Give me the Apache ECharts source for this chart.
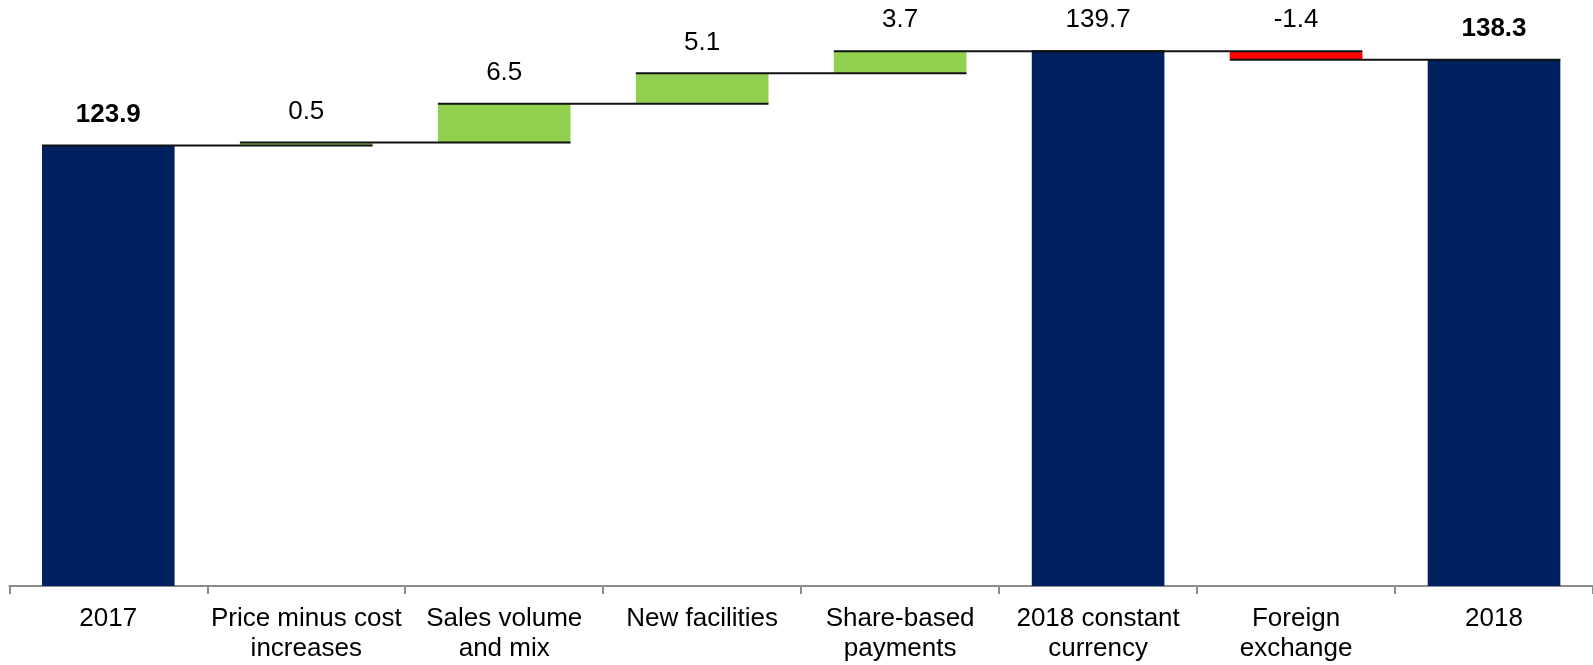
<!DOCTYPE html>
<html>
<head>
<meta charset="utf-8">
<title>Waterfall 2017 to 2018</title>
<script src="https://cdn.jsdelivr.net/npm/echarts@6/dist/echarts.min.js"></script>
<style>
  html, body { margin: 0; padding: 0; background: #ffffff; }
  #chart { width: 1593px; height: 665px; }
</style>
</head>
<body>
<div id="chart"></div>
<script>
// Bridge categories, step values and step kinds
const categories = [
  '2017',
  'Price minus cost\nincreases',
  'Sales volume\nand mix',
  'New facilities',
  'Share-based\npayments',
  '2018 constant\ncurrency',
  'Foreign\nexchange',
  '2018'
];
const values = [123.9, 0.5, 6.5, 5.1, 3.7, 139.7, -1.4, 138.3];
const kinds = ['total', 'delta', 'delta', 'delta', 'delta', 'subtotal', 'delta', 'total'];

const NAVY = '#002060';
const GREEN = '#92D050';
const RED = '#FF0000';
const FONT = '"Liberation Sans", Arial, sans-serif';

// Work out the floating segment of each bar and the running level after it
const baseData = [];
const barData = [];
const levels = [];
let running = 0;
values.forEach(function (v, i) {
  let lo, hi, color;
  if (kinds[i] === 'delta') {
    const next = running + v;
    lo = Math.min(running, next);
    hi = Math.max(running, next);
    running = next;
    color = v >= 0 ? GREEN : RED;
  } else {
    lo = 0;
    hi = v;
    running = v;
    color = NAVY;
  }
  levels.push(running);
  baseData.push(lo);
  barData.push({
    value: hi - lo,
    itemStyle: { color: color },
    label: { fontWeight: kinds[i] === 'total' ? 'bold' : 'normal' }
  });
});

// Connector from the left edge of bar i to the right edge of bar i + 1
const connectorData = [];
for (let i = 0; i < levels.length - 1; i++) {
  connectorData.push([i, levels[i]]);
}

const BAR_SHARE = 0.67;

const chart = echarts.init(document.getElementById('chart'), null, { renderer: 'canvas' });
chart.setOption({
  animation: false,
  backgroundColor: '#ffffff',
  grid: { left: 9.3, width: 1591.2, top: 49.5, bottom: 79, containLabel: false },
  xAxis: {
    type: 'category',
    data: categories,
    boundaryGap: true,
    axisLine: { show: true, lineStyle: { color: '#8c8c8c', width: 2 } },
    axisTick: { show: true, length: 8, lineStyle: { color: '#8c8c8c', width: 2 } },
    axisLabel: {
      color: '#000000',
      fontFamily: FONT,
      fontSize: 26,
      lineHeight: 30,
      margin: 18,
      interval: 0
    }
  },
  yAxis: {
    type: 'value',
    min: 50,
    max: 140,
    show: false,
    splitLine: { show: false }
  },
  series: [
    {
      type: 'bar',
      stack: 'bridge',
      data: baseData,
      itemStyle: { color: 'rgba(0,0,0,0)' },
      barCategoryGap: '33%',
      clip: true,
      silent: true
    },
    {
      type: 'bar',
      stack: 'bridge',
      data: barData,
      barCategoryGap: '33%',
      clip: true,
      label: {
        show: true,
        position: 'top',
        distance: 18,
        color: '#000000',
        fontFamily: FONT,
        fontSize: 26,
        formatter: function (p) {
          return values[p.dataIndex].toFixed(1);
        }
      }
    },
    {
      type: 'custom',
      z: 10,
      clip: false,
      data: connectorData,
      renderItem: function (params, api) {
        const i = api.value(0);
        const lv = api.value(1);
        const band = api.size([1, 0])[0];
        const half = band * BAR_SHARE / 2;
        const p0 = api.coord([i, lv]);
        const p1 = api.coord([i + 1, lv]);
        return {
          type: 'line',
          shape: { x1: p0[0] - half, y1: p0[1], x2: p1[0] + half, y2: p1[1] },
          style: { stroke: '#111111', lineWidth: 2 }
        };
      }
    }
  ]
});
</script>
</body>
</html>
